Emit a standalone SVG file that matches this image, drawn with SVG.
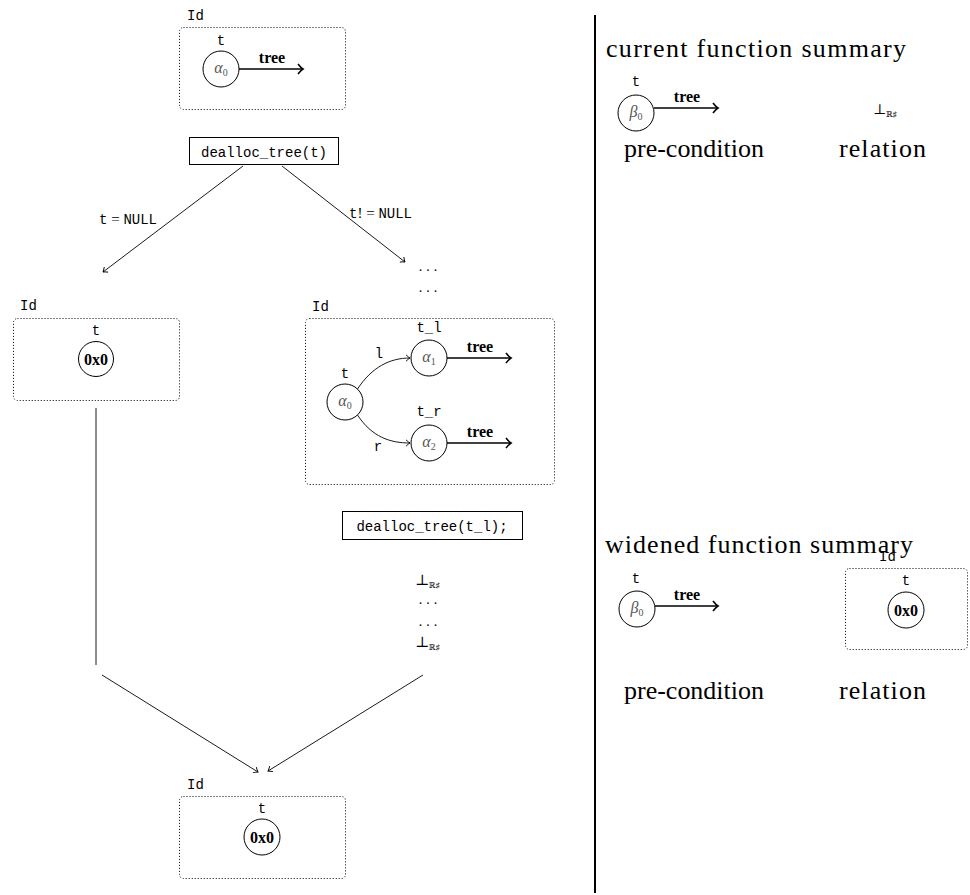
<svg xmlns="http://www.w3.org/2000/svg" width="970" height="895" viewBox="0 0 970 895">
<style>
.mono{font-family:"Liberation Mono","DejaVu Sans Mono",monospace;font-size:14px;fill:#000}
.serif{font-family:"Liberation Serif","DejaVu Serif",serif;fill:#000}
.greek{font-family:"Liberation Serif","DejaVu Serif",serif;font-style:italic;font-size:16px;fill:#555}
.sub{font-style:normal;font-size:10px}
.bold{font-family:"Liberation Serif","DejaVu Serif",serif;font-weight:bold;fill:#000}
.box{fill:none;stroke:#000;stroke-width:1;stroke-dasharray:1 2}
.circ{fill:#fff;stroke:#000;stroke-width:1}
.cmd{fill:#fff;stroke:#000;stroke-width:1}
.edge{fill:none;stroke:#000;stroke-width:0.9}
.thick{fill:none;stroke:#000;stroke-width:1.6}
.mid{text-anchor:middle}
.big{font-size:26px}
.dots{font-family:"Liberation Serif","DejaVu Serif",serif;font-size:14px;fill:#000;text-anchor:middle;letter-spacing:4px}
</style>
<defs>
<marker id="to" markerUnits="userSpaceOnUse" markerWidth="12" markerHeight="12" refX="0" refY="0" viewBox="-6 -6 12 12" orient="auto" overflow="visible">
<path d="M-4,-3.2 Q-1.5,-0.8 0,0 Q-1.5,0.8 -4,3.2" fill="none" stroke="#000" stroke-width="0.9"/>
</marker>
<marker id="tob" markerUnits="userSpaceOnUse" markerWidth="14" markerHeight="14" refX="0" refY="0" viewBox="-7 -7 14 14" orient="auto" overflow="visible">
<path d="M-5,-5 Q-2,-1.2 0,0 Q-2,1.2 -5,5" fill="none" stroke="#000" stroke-width="1.6"/>
</marker>
</defs>

<g id="connectors">
<line class="edge" x1="243" y1="166" x2="103" y2="272" marker-end="url(#to)"/>
<line class="edge" x1="282" y1="166" x2="405" y2="262" marker-end="url(#to)"/>
<line class="edge" x1="96" y1="408" x2="96" y2="665"/>
<line class="edge" x1="102" y1="675" x2="258" y2="772" marker-end="url(#to)"/>
<line class="edge" x1="423" y1="675" x2="268" y2="771" marker-end="url(#to)"/>
<text class="serif" x="99" y="224" font-size="15"><tspan class="mono">t</tspan> = <tspan class="mono">NULL</tspan></text>
<text class="serif" x="349" y="218" font-size="15"><tspan class="mono">t</tspan>! = <tspan class="mono">NULL</tspan></text>
</g>

<g id="sep">
<line x1="595" y1="15" x2="595" y2="893" stroke="#000" stroke-width="2"/>
</g>

<g id="node-top">
<rect class="box" x="179.5" y="27.5" width="166" height="82" rx="4"/>
<text class="mono" x="187" y="20">Id</text>
<text class="mono mid" x="221" y="45">t</text>
<circle class="circ" cx="221" cy="69" r="18"/>
<text class="greek mid" x="221" y="73">α<tspan class="sub" dy="3">0</tspan></text>
<line class="thick" x1="239" y1="69" x2="303" y2="69" marker-end="url(#tob)"/>
<text class="bold mid" x="272" y="63" font-size="16">tree</text>
</g>

<g id="cmd1">
<rect class="cmd" x="189.5" y="137.5" width="149" height="27"/>
<text class="mono mid" x="264" y="157" font-size="15">dealloc_tree(t)</text>
</g>

<g id="dots1">
<text class="dots" x="430" y="271">...</text>
<text class="dots" x="430" y="292">...</text>
</g>

<g id="node-null">
<rect class="box" x="13.5" y="318.5" width="166" height="82" rx="4"/>
<text class="mono" x="20" y="310">Id</text>
<text class="mono mid" x="96" y="335">t</text>
<circle class="circ" cx="96" cy="359" r="17.5"/>
<text class="bold mid" x="96" y="365" font-size="16">0x0</text>
</g>

<g id="node-tree">
<rect class="box" x="305.5" y="318.5" width="249" height="166" rx="4"/>
<text class="mono" x="312" y="311">Id</text>
<text class="mono mid" x="345" y="378">t</text>
<circle class="circ" cx="345" cy="402" r="18"/>
<text class="greek mid" x="345" y="406">α<tspan class="sub" dy="3">0</tspan></text>
<text class="mono mid" x="429" y="332">t_l</text>
<circle class="circ" cx="429" cy="358" r="18"/>
<text class="greek mid" x="429" y="362">α<tspan class="sub" dy="3">1</tspan></text>
<text class="mono mid" x="429" y="416">t_r</text>
<circle class="circ" cx="429" cy="443" r="18"/>
<text class="greek mid" x="429" y="447">α<tspan class="sub" dy="3">2</tspan></text>
<path class="edge" d="M357.5,389 C372,367 390,358 410,358" marker-end="url(#to)"/>
<path class="edge" d="M357.5,415 C372,437 390,443 410,443" marker-end="url(#to)"/>
<text class="mono mid" x="379" y="358">l</text>
<text class="mono mid" x="378" y="451">r</text>
<line class="thick" x1="447" y1="358" x2="511" y2="358" marker-end="url(#tob)"/>
<text class="bold mid" x="480" y="352" font-size="16">tree</text>
<line class="thick" x1="447" y1="443" x2="511" y2="443" marker-end="url(#tob)"/>
<text class="bold mid" x="480" y="437" font-size="16">tree</text>
</g>

<g id="cmd2">
<rect class="cmd" x="342.5" y="511.5" width="180" height="28"/>
<text class="mono mid" x="432" y="531" font-size="15">dealloc_tree(t_l);</text>
</g>

<g id="bottoms">
<text class="serif" x="415" y="585" font-size="15" fill="#333">⊥<tspan font-size="8" dy="3">ℝ♯</tspan></text>
<text class="dots" x="430" y="604">...</text>
<text class="dots" x="430" y="626">...</text>
<text class="serif" x="415" y="647" font-size="15" fill="#333">⊥<tspan font-size="8" dy="3">ℝ♯</tspan></text>
</g>

<g id="node-bottom">
<rect class="box" x="179.5" y="796.5" width="166" height="82" rx="4"/>
<text class="mono" x="187" y="789">Id</text>
<text class="mono mid" x="262" y="813">t</text>
<circle class="circ" cx="262" cy="837" r="18"/>
<text class="bold mid" x="262" y="843" font-size="16">0x0</text>
</g>

<g id="current">
<text class="serif big" x="606" y="57" textLength="300">current function summary</text>
<text class="mono mid" x="636" y="86">t</text>
<circle class="circ" cx="636" cy="113" r="18"/>
<text class="greek mid" x="636" y="117">β<tspan class="sub" dy="3">0</tspan></text>
<line class="thick" x1="654" y1="108" x2="718" y2="108" marker-end="url(#tob)"/>
<text class="bold mid" x="687" y="102" font-size="16">tree</text>
<text class="serif" x="873" y="114" font-size="14" fill="#333">⊥<tspan font-size="8" dy="3">ℝ♯</tspan></text>
<text class="serif big" x="624" y="157" textLength="140">pre-condition</text>
<text class="serif big" x="839" y="157" textLength="87">relation</text>
</g>

<g id="widened">
<text class="serif big" x="605" y="553" textLength="308">widened function summary</text>
<text class="mono mid" x="636" y="583">t</text>
<circle class="circ" cx="637" cy="609" r="18"/>
<text class="greek mid" x="637" y="613">β<tspan class="sub" dy="3">0</tspan></text>
<line class="thick" x1="655" y1="606" x2="718" y2="606" marker-end="url(#tob)"/>
<text class="bold mid" x="687" y="600" font-size="16">tree</text>
<rect class="box" x="845.5" y="568.5" width="122" height="81" rx="4"/>
<text class="mono" x="879" y="561">Id</text>
<text class="mono mid" x="906" y="585">t</text>
<circle class="circ" cx="906" cy="610" r="18"/>
<text class="bold mid" x="906" y="616" font-size="16">0x0</text>
<text class="serif big" x="624" y="699" textLength="140">pre-condition</text>
<text class="serif big" x="839" y="699" textLength="87">relation</text>
</g>
</svg>
